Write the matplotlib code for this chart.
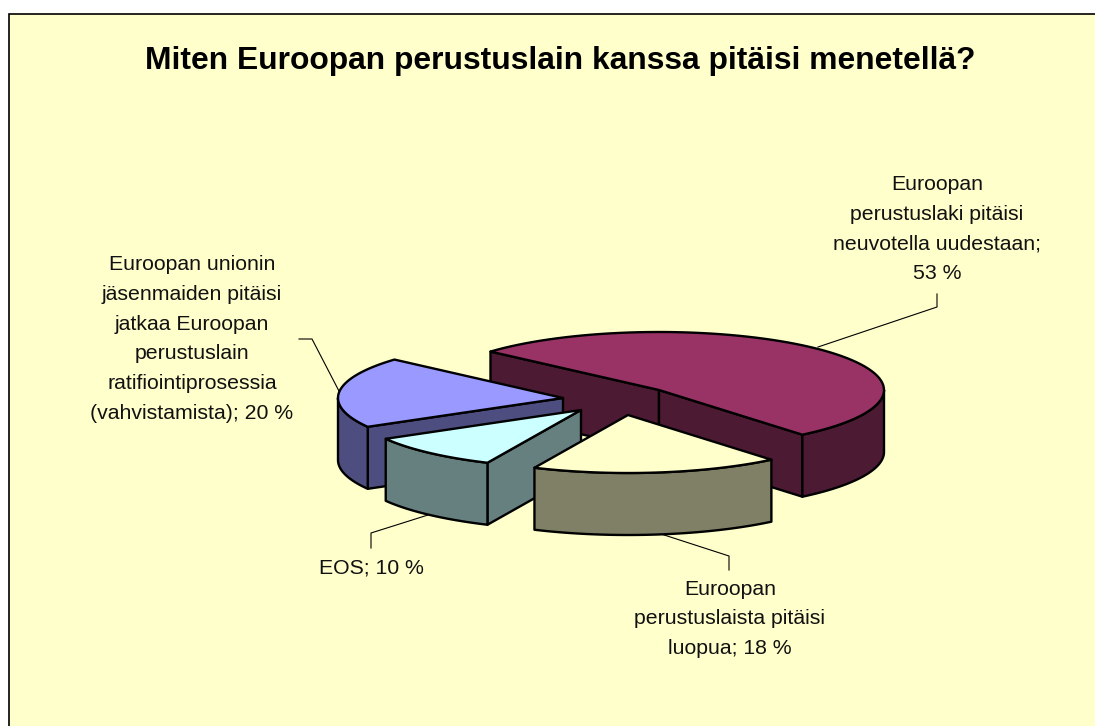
#!/usr/bin/env python3

# Exploded 3D style pie chart, drawn as polygons on a pixel sized axes

import numpy as np
import matplotlib
matplotlib.use('Agg')
import matplotlib.pyplot as plt
from matplotlib.patches import Polygon, Rectangle

plt.rcParams['font.family'] = ['Liberation Sans', 'DejaVu Sans']

# Data
title = 'Miten Euroopan perustuslain kanssa pitäisi menetellä?'
categories = [
    'Euroopan\nperustuslaki pitäisi\nneuvotella uudestaan;',
    'Euroopan\nperustuslaista pitäisi\nluopua;',
    'EOS;',
    'Euroopan unionin\njäsenmaiden pitäisi\njatkaa Euroopan\nperustuslain\nratifiointiprosessia\n(vahvistamista);',
]
values = [53, 18, 10, 20]
joiners = ['\n', ' ', ' ', ' ']

# Styles and layout, in pixels of the picture
top_colors = ['#993366', '#FFFFCC', '#CCFFFF', '#9999FF']
side_colors = ['#4D1A33', '#808066', '#668080', '#4D4D80']
apex = [(659, 390), (628, 415), (581, 410), (563, 398)]
label_pos = [(937, 229), (730, 619), (371, 568), (192, 339)]
leaders = [
    [(818, 347), (937, 307), (937, 294)],
    [(658, 533), (729, 556), (729, 570)],
    [(428, 515), (371, 533), (371, 548)],
    [(340, 393), (312, 339), (299, 339)],
]
draw_order = [0, 3, 2, 1]
rx, ry, depth = 225, 58, 62
start_angle = 138.5
bg = '#FFFFCC'

fig = plt.figure(figsize=(10.95, 7.26), dpi=100)
ax = fig.add_axes([0, 0, 1, 1])
ax.set_xlim(0, 1095)
ax.set_ylim(726, 0)
ax.axis('off')

ax.add_patch(Rectangle((9, 14), 1200, 800, facecolor=bg, edgecolor='black', lw=1.2))

# Slice angles come from the values
sweep = np.array(values) / sum(values) * 360
starts = start_angle - np.concatenate([[0], np.cumsum(sweep)[:-1]])
ends = starts - sweep


def rim(x0, y0, a1, a2):
    t = np.radians(np.linspace(a1, a2, 80))
    return np.column_stack([x0 + rx * np.cos(t), y0 - ry * np.sin(t)])


def draw_face(pts, color, z):
    ax.add_patch(Polygon(pts, closed=True, facecolor=color, edgecolor='black',
                         lw=1.7, joinstyle='round', zorder=z))


z = 2
for i in draw_order:
    x0, y0 = apex[i]
    a1, a2 = starts[i], ends[i]

    # cut walls, only the ones turned towards the viewer
    for a, normal in ((a1, a1 + 90), (a2, a2 - 90)):
        if np.sin(np.radians(normal)) < 0:
            p = rim(x0, y0, a, a)[0]
            wall = [(x0, y0), p, (p[0], p[1] + depth), (x0, y0 + depth)]
            draw_face(wall, side_colors[i], z)
            z += 1

    # outer wall, the part of the rim that lies on the front half
    for k in range(-1, 1):
        lo, hi = k * 360 - 180, k * 360
        b1, b2 = min(a1, hi), max(a2, lo)
        if b1 > b2:
            edge = rim(x0, y0, b1, b2)
            low = edge + [0, depth]
            draw_face(np.vstack([edge, low[::-1]]), side_colors[i], z)
            z += 1

    # top face
    draw_face(np.vstack([[(x0, y0)], rim(x0, y0, a1, a2)]), top_colors[i], z)
    z += 1

for pts in leaders:
    xs, ys = zip(*pts)
    ax.plot(xs, ys, color='black', lw=0.8, zorder=1)

ax.text(560.5, 60.5, title, ha='center', va='center', fontsize=22.9, fontweight='bold')

for i in range(len(values)):
    label = f'{categories[i]}{joiners[i]}{values[i]} %'
    ax.text(label_pos[i][0], label_pos[i][1], label, ha='center', va='center',
            fontsize=15.3, linespacing=1.71, color='#111111')

fig.savefig('out.png', dpi=100, facecolor='white')
